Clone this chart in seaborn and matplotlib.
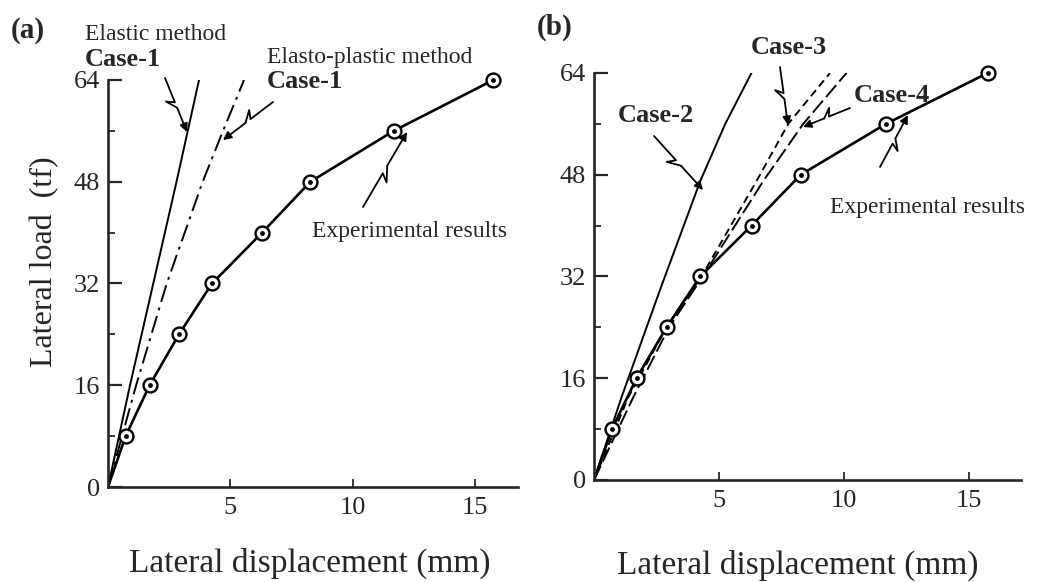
import numpy as np
import pandas as pd
import seaborn as sns
import matplotlib.pyplot as plt
from matplotlib.ticker import MultipleLocator, FixedLocator

# data (displacement mm, load tf)
exp_disp = [0, 0.72, 1.7, 2.9, 4.25, 6.3, 8.27, 11.68, 15.75]
exp_load = [0, 8, 16, 24, 32, 40, 48, 56, 64]

elastic_disp = [0, 0.9, 1.85, 2.8, 3.72]
elastic_load = [0, 16, 32, 48, 64]

elasto_disp = [0, 1.15, 2.4, 3.87, 4.7, 5.56]
elasto_load = [0, 16, 32, 48, 56, 64]

case2_disp = [0, 1.1, 2.65, 4.25, 5.25, 6.3]
case2_load = [0, 13, 30, 47, 56, 64]

case3_disp = [0, 1.37, 2.9, 4.3, 6.5, 7.77, 9.44]
case3_load = [0, 13, 24, 32, 47, 56, 64]

case4_disp = [0, 1.57, 3.0, 4.35, 6.77, 8.37, 10.1]
case4_load = [0, 13, 24, 32, 47, 56, 64]

y_ticks = [0, 16, 32, 48, 64]
x_ticks = [5, 10, 15]

sns.set_style("ticks")
plt.rcParams['font.family'] = ['Liberation Serif', 'DejaVu Serif']

W, H = 1042, 582
fig = plt.figure(figsize=(W / 100, H / 100), dpi=100)


def make_axes(x0, y0, px_per_mm, x_end):
    # axes placed from pixel positions of the origin
    top = y0 - 64 * 6.36
    ax = fig.add_axes([x0 / W, 1 - y0 / H, (x_end - x0) / W, (y0 - top) / H])
    ax.set_xlim(0, (x_end - x0) / px_per_mm)
    ax.set_ylim(0, 64)
    sns.despine(ax=ax)
    for s in ['left', 'bottom']:
        ax.spines[s].set_linewidth(1.9)
    ax.yaxis.set_major_locator(FixedLocator(y_ticks))
    ax.yaxis.set_minor_locator(MultipleLocator(8))
    ax.xaxis.set_major_locator(FixedLocator(x_ticks))
    ax.tick_params(axis='y', which='major', direction='in', length=10, width=1.6,
                   labelsize=19, pad=6)
    ax.tick_params(axis='y', which='minor', direction='in', length=5, width=1.3)
    ax.tick_params(axis='x', which='major', direction='in', length=6, width=1.3,
                   labelsize=19, pad=7)
    return ax


def experimental(ax):
    df = pd.DataFrame({'d': exp_disp, 'p': exp_load})
    sns.lineplot(data=df, x='d', y='p', ax=ax, color='black', lw=1.9,
                 sort=False, estimator=None)
    pts = df.iloc[1:]
    ax.scatter(pts['d'], pts['p'], s=100, facecolor='white', edgecolor='black',
               linewidth=1.7, zorder=5, clip_on=False)
    ax.scatter(pts['d'], pts['p'], s=6, color='black', zorder=6, clip_on=False)


def curve(ax, xs, ys, ls):
    df = pd.DataFrame({'d': xs, 'p': ys})
    sns.lineplot(data=df, x='d', y='p', ax=ax, color='black', lw=1.4,
                 sort=False, estimator=None, linestyle=ls)


ax_a = make_axes(108, 487, 24.47, 518)
curve(ax_a, elastic_disp, elastic_load, '-')
curve(ax_a, elasto_disp, elasto_load, (0, (9, 3, 1.5, 3)))
experimental(ax_a)
ax_a.set_xlabel('')
ax_a.set_ylabel('')

ax_b = make_axes(594, 480, 25.0, 1021)
curve(ax_b, case2_disp, case2_load, '-')
curve(ax_b, case3_disp, case3_load, (0, (4, 2.5)))
curve(ax_b, case4_disp, case4_load, (0, (8, 2.5)))
experimental(ax_b)
ax_b.set_xlabel('')
ax_b.set_ylabel('')

# overlay in pixel coordinates for labels and pointer arrows
ov = fig.add_axes([0, 0, 1, 1])
ov.set_xlim(0, W)
ov.set_ylim(H, 0)
ov.axis('off')


def squiggle(p0, p1):
    p0 = np.array(p0, float)
    p1 = np.array(p1, float)
    d = p1 - p0
    n = np.array([-d[1], d[0]]) / np.hypot(*d)
    a = p0 + 0.45 * d
    b = p0 + 0.38 * d + 8 * n
    c = p0 + 0.55 * d
    pts = np.array([p0, a, b, c])
    ov.plot(pts[:, 0], pts[:, 1], color='black', lw=1.3)
    ov.annotate('', xy=p1, xytext=c,
                arrowprops=dict(arrowstyle='-|>', color='black', lw=1.3,
                                mutation_scale=12, shrinkA=0, shrinkB=0))


# panel (a)
ov.text(28, 30, '(a)', fontsize=21, fontweight='bold', ha='center', va='center')
ov.text(85, 34, 'Elastic method', fontsize=17, ha='left', va='center')
ov.text(85, 59, 'Case-1', fontsize=19, fontweight='bold', ha='left', va='center')
ov.text(267, 57, 'Elasto-plastic method', fontsize=17, ha='left', va='center')
ov.text(267, 82, 'Case-1', fontsize=19, fontweight='bold', ha='left', va='center')
ov.text(409, 231, 'Experimental results', fontsize=17, ha='center', va='center')
squiggle((165, 78), (187, 132))
squiggle((273, 102), (223, 140))
squiggle((363, 207), (407, 132))

# panel (b)
ov.text(555, 27, '(b)', fontsize=21, fontweight='bold', ha='center', va='center')
ov.text(656, 115, 'Case-2', fontsize=19, fontweight='bold', ha='center', va='center')
ov.text(789, 48, 'Case-3', fontsize=19, fontweight='bold', ha='center', va='center')
ov.text(892, 96, 'Case-4', fontsize=19, fontweight='bold', ha='center', va='center')
ov.text(927, 207, 'Experimental results', fontsize=17, ha='center', va='center')
squiggle((654, 136), (703, 190))
squiggle((780, 67), (788, 125))
squiggle((850, 108), (803, 127))
squiggle((880, 167), (908, 115))

# axis titles
ov.text(45, 262, 'Lateral load  (tf)', fontsize=23, rotation=90,
        ha='center', va='center')
ov.text(310, 563, 'Lateral displacement (mm)', fontsize=24, ha='center', va='center')
ov.text(798, 565, 'Lateral displacement (mm)', fontsize=24, ha='center', va='center')

fig.savefig('out.png', dpi=100)
